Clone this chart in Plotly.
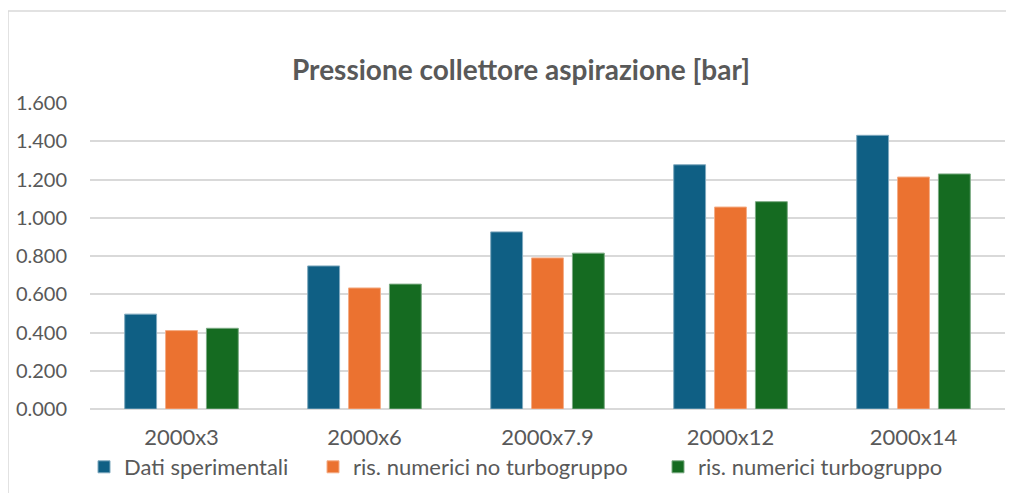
import plotly.graph_objects as go

categories = ["2000x3", "2000x6", "2000x7.9", "2000x12", "2000x14"]
dati_sperimentali = [0.496, 0.748, 0.926, 1.277, 1.431]
no_turbogruppo = [0.410, 0.633, 0.790, 1.056, 1.213]
turbogruppo = [0.422, 0.653, 0.815, 1.084, 1.229]
y_ticks = [0.0, 0.2, 0.4, 0.6, 0.8, 1.0, 1.2, 1.4, 1.6]
y_tick_labels = ["0.000", "0.200", "0.400", "0.600", "0.800", "1.000", "1.200", "1.400", "1.600"]

series = [
    ("Dati sperimentali", dati_sperimentali, "#0F5F84", "#7FA9BE"),
    ("ris. numerici no turbogruppo", no_turbogruppo, "#EB7230", "#F4AD86"),
    ("ris. numerici turbogruppo", turbogruppo, "#156B21", "#7BAA82"),
]

FONT = "Lato"
GREY = "#595959"
# The page body has an 8px margin; figure coordinates = reference coordinates - 8.
W, H = 998, 485
L, R, T, B = 82, 1, 95, 84
PW, PH = W - L - R, H - T - B

legend_ids = ["legend", "legend2", "legend3"]
legend_x = [76, 305, 650]

fig = go.Figure()
for (name, vals, col, edge), lid in zip(series, legend_ids):
    fig.add_trace(go.Bar(
        x=categories, y=vals, name=name, legend=lid,
        marker=dict(color=col, line=dict(color=edge, width=1)),
    ))

legend_style = dict(orientation="h", xref="container", yref="container",
                    xanchor="left", y=1 - 459 / H, yanchor="middle",
                    font=dict(family=FONT, size=22, color=GREY),
                    itemwidth=30, bgcolor="rgba(0,0,0,0)")

fig.update_layout(
    width=W, height=H,
    margin=dict(l=L, r=R, t=T, b=B, autoexpand=False),
    paper_bgcolor="white", plot_bgcolor="white",
    barmode="group", bargap=0.33, bargroupgap=0.22,
    title=dict(text="<b>Pressione collettore aspirazione [bar]</b>",
               xref="container", yref="container",
               x=513 / W, xanchor="center", y=1 - 62 / H, yanchor="middle",
               font=dict(family=FONT, size=28, color=GREY)),
    font=dict(family=FONT, size=20, color=GREY),
    xaxis=dict(showgrid=False, showline=False, ticks="", ticklabelstandoff=13,
               tickfont=dict(size=22, color=GREY)),
    yaxis=dict(range=[0, 1.6], tickvals=y_ticks, ticktext=y_tick_labels,
               showgrid=True, gridcolor="#D9D9D9", gridwidth=1.5,
               zeroline=True, zerolinecolor="#D9D9D9", zerolinewidth=1.5,
               showline=False, ticks="", ticklabelstandoff=22,
               tickfont=dict(size=20, color=GREY)),
    showlegend=True,
)
for lid, lx in zip(legend_ids, legend_x):
    fig.update_layout({lid: dict(legend_style, x=lx / W)})

# chart-area border (left and top edges)
bx = (0 - L) / PW
by = (H - B - 3) / PH
fig.add_shape(type="line", xref="paper", yref="paper",
              x0=bx, x1=(W - L) / PW, y0=by, y1=by,
              line=dict(color="#D9D9D9", width=1.5))
fig.add_shape(type="line", xref="paper", yref="paper",
              x0=bx, x1=bx, y0=by, y1=-B / PH,
              line=dict(color="#D9D9D9", width=1.5))

fig.write_html("out.html")
